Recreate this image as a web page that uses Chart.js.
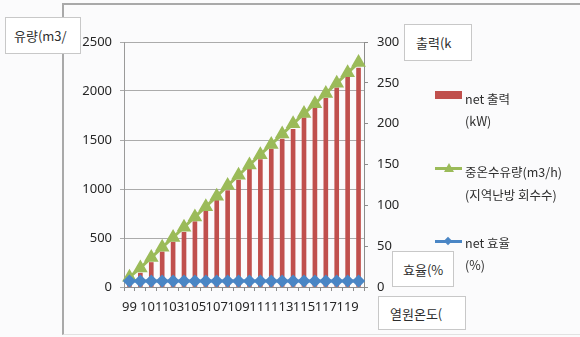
<!DOCTYPE html>
<html>
<head>
<meta charset="utf-8">
<script src="https://cdn.jsdelivr.net/npm/chart.js@4"></script>
<style>
  body{ margin:0; background:#fbfbfc; }
  #wrap{ position:relative; width:580px; height:337px; overflow:hidden; font-family:"Noto Sans CJK KR","Noto Sans",sans-serif; color:#2e2e2e; }
  #frame{ position:absolute; left:62px; top:3px; width:518px; height:332px; border-top:2px solid #a9a9a9; border-left:2px solid #a9a9a9; border-bottom:1px solid #e2e2e2; box-sizing:border-box; }
  canvas{ position:absolute; left:0; top:0; }
  .tbox{ position:absolute; box-sizing:border-box; border:1px solid #c8c8c8; background:#fff; font-size:13px; display:flex; align-items:center; white-space:nowrap; }
  .lg-text{ position:absolute; left:465px; font-size:12.5px; line-height:22px; white-space:nowrap; }
  .lg-line{ position:absolute; left:435px; width:27px; height:3px; }
</style>
</head>
<body>
<div id="wrap">
  <div id="frame"></div>
  <canvas id="chart" width="580" height="337"></canvas>

  <div class="tbox" style="left:5px;top:17px;width:76px;height:37px;padding-left:8px;">유량(m3/</div>
  <div class="tbox" style="left:404px;top:24px;width:68px;height:37px;padding-left:11px;">출력(k</div>
  <div class="tbox" style="left:392px;top:251px;width:62px;height:36px;padding-left:10px;">효율(%</div>
  <div class="tbox" style="left:378px;top:296px;width:88px;height:34px;padding-left:11px;">열원온도(</div>

  <div style="position:absolute;left:435px;top:91px;width:27px;height:8px;background:#c0504d;"></div>
  <div class="lg-text" style="top:88px;">net 출력<br>(kW)</div>

  <div class="lg-line" style="top:167px;background:#9bbb59;"></div>
  <div style="position:absolute;left:444px;top:163px;width:0;height:0;border-left:5px solid transparent;border-right:5px solid transparent;border-bottom:9px solid #9bbb59;"></div>
  <div class="lg-text" style="top:160px;line-height:23px;">중온수유량(m3/h)<br>(지역난방 회수수)</div>

  <div class="lg-line" style="top:240px;background:#4a86c5;"></div>
  <div style="position:absolute;left:445px;top:238px;width:6px;height:6px;background:#4a86c5;transform:rotate(45deg);"></div>
  <div class="lg-text" style="top:232px;">net 효율<br>(%)</div>
</div>

<script>
const categories = ["99","100","101","102","103","104","105","106","107","108","109",
                    "110","111","112","113","114","115","116","117","118","119","120"];
// net 출력 (kW), right axis
const netPower = [5,17,30,43,55,67,80,93,106,118,131,144,156,169,181,193,207,219,231,244,257,268];
// 중온수유량 (m3/h), left axis
const flowRate = [100,195,300,405,505,610,715,820,925,1035,1140,1245,1350,1455,1560,1665,1770,1870,1975,2080,2185,2290];
// net 효율 (%)
const netEff = [7.2,7.2,7.3,7.3,7.3,7.3,7.3,7.3,7.3,7.3,7.3,7.3,7.3,7.3,7.3,7.3,7.3,7.3,7.3,7.3,7.3,7.3];

const leftTicks = [0,500,1000,1500,2000,2500];
const rightTicks = [0,50,100,150,200,250,300];

const tickFont = { family:"'Noto Sans','Noto Sans CJK KR',sans-serif", size:13 };
const tickColor = "#262626";

new Chart(document.getElementById("chart"), {
  data:{
    labels:categories,
    datasets:[
      {
        type:"line",
        label:"net 효율",
        data:netEff,
        yAxisID:"y1",
        borderColor:"#4a86c5",
        backgroundColor:"#4a86c5",
        borderWidth:3,
        pointStyle:"rectRot",
        pointRadius:4.5,
        pointBackgroundColor:"#4a86c5",
        pointBorderColor:"#4a86c5",
        order:1
      },
      {
        type:"line",
        label:"중온수유량(m3/h)",
        data:flowRate,
        yAxisID:"y",
        borderColor:"#9bbb59",
        backgroundColor:"#9bbb59",
        borderWidth:3,
        pointStyle:"triangle",
        pointRadius:5.5,
        pointBackgroundColor:"#9bbb59",
        pointBorderColor:"#9bbb59",
        order:2
      },
      {
        type:"bar",
        label:"net 출력",
        data:netPower,
        yAxisID:"y1",
        backgroundColor:"#c0504d",
        borderWidth:0,
        barThickness:4,
        order:3
      }
    ]
  },
  options:{
    responsive:false,
    animation:false,
    devicePixelRatio:1,
    layout:{ padding:{ top:42, left:0, right:0, bottom:0 } },
    plugins:{ legend:{ display:false }, tooltip:{ enabled:false } },
    scales:{
      x:{
        offset:true,
        grid:{ offset:true, drawOnChartArea:false, tickLength:4, color:"#8c8c8c" },
        border:{ color:"#8c8c8c" },
        ticks:{
          autoSkip:false, maxRotation:0, padding:8,
          font:tickFont, color:tickColor,
          callback:(v, i) => i % 2 === 0 ? categories[i] : ""
        },
        afterFit:s => { s.height = 50; }
      },
      y:{
        position:"left",
        min:leftTicks[0], max:leftTicks[leftTicks.length-1],
        afterBuildTicks:s => { s.ticks = leftTicks.map(v => ({ value:v })); },
        grid:{ color:"#ababab", tickLength:4 },
        border:{ color:"#9a9a9a" },
        ticks:{ padding:8, font:tickFont, color:tickColor, callback:v => String(v) },
        afterFit:s => { s.width = 124; }
      },
      y1:{
        position:"right",
        min:rightTicks[0], max:rightTicks[rightTicks.length-1],
        afterBuildTicks:s => { s.ticks = rightTicks.map(v => ({ value:v })); },
        grid:{ drawOnChartArea:false, tickLength:4, color:"#8c8c8c" },
        border:{ color:"#8c8c8c" },
        ticks:{ padding:9, font:tickFont, color:tickColor, callback:v => String(v) },
        afterFit:s => { s.width = 216; }
      }
    }
  }
});
</script>
</body>
</html>
